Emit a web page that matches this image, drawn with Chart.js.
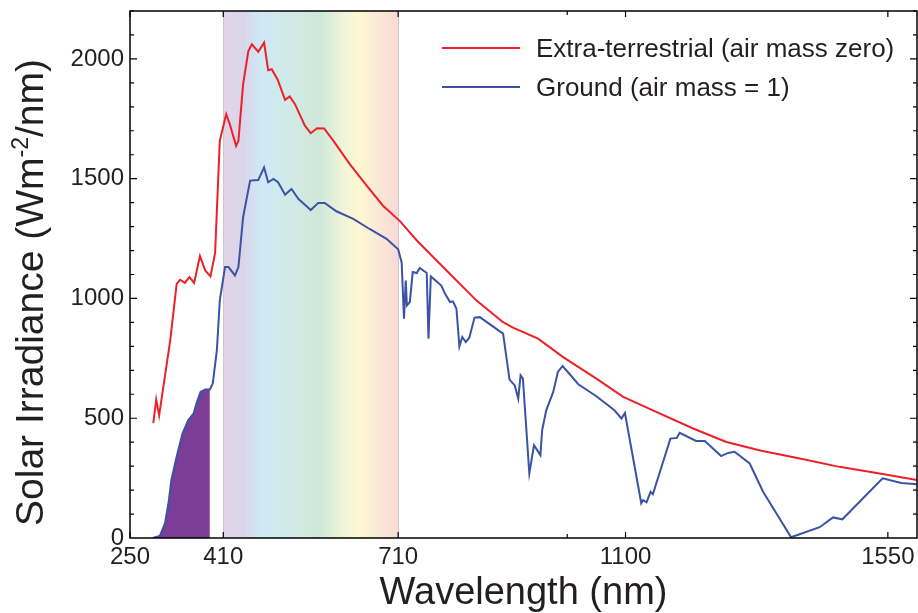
<!DOCTYPE html>
<html>
<head>
<meta charset="utf-8">
<script src="https://cdn.jsdelivr.net/npm/chart.js@4.4.1/dist/chart.umd.min.js"></script>
<style>
  html, body { margin: 0; padding: 0; background: #fff; }
  #chart { display: block; }
</style>
</head>
<body>
<canvas id="chart" width="918" height="613"></canvas>
<script>
// ─── DATA ──────────────────────────────────────────────────
const xTicks = [250, 410, 710, 1100, 1550];
const xMinorTicks = [1000];
const yTicks = [0, 500, 1000, 1500, 2000];

const extraWavelength = [
    290, 295, 300, 319, 330, 336, 344, 352, 360, 370, 379, 388, 396, 404, 415, 421,
    432, 436, 444, 453, 459, 470, 480, 487, 493, 503, 516, 524, 533, 550, 560, 571,
    583, 599, 627, 656, 684, 713, 742, 793, 844, 890, 907, 950, 993, 1050, 1096, 1147,
    1216, 1273, 1333, 1399, 1467, 1541, 1600,
];
const extraIrradiance = [
    480, 578, 512, 825, 1060, 1078, 1065, 1089, 1065, 1177, 1117, 1092, 1190, 1658, 1769, 1729,
    1637, 1658, 1894, 2033, 2061, 2030, 2068, 1953, 1957, 1915, 1829, 1843, 1811, 1721, 1690, 1711,
    1710, 1658, 1561, 1471, 1387, 1323, 1242, 1117, 992, 901, 878, 832, 755, 665, 589, 533,
    457, 401, 364, 332, 297, 267, 242,
];

const groundWavelength = [
    289, 301, 310, 316, 321, 330, 340, 350, 359, 364, 371, 379, 387, 392, 399, 404,
    413, 419, 430, 436, 444, 456, 470, 480, 487, 496, 504, 516, 527, 539, 552, 560,
    573, 584, 604, 633, 661, 690, 710, 716, 720, 723, 725, 730, 735, 742, 747, 759,
    762, 766, 784, 790, 799, 804, 810, 815, 820, 826, 832, 841, 850, 890, 901, 910,
    916, 920, 924, 935, 943, 954, 957, 964, 976, 984, 992, 1001, 1019, 1050, 1081, 1093,
    1099, 1127, 1130, 1136, 1143, 1147, 1177, 1188, 1193, 1221, 1236, 1264, 1276, 1287, 1313, 1336,
    1384, 1433, 1456, 1472, 1541, 1573, 1600,
];
const groundIrradiance = [
    0, 8, 61, 145, 242, 339, 436, 492, 519, 561, 610, 620, 620, 645, 783, 992,
    1131, 1131, 1096, 1131, 1339, 1492, 1494, 1547, 1485, 1499, 1485, 1433, 1457, 1415, 1387, 1369,
    1399, 1399, 1364, 1332, 1290, 1249, 1205, 1150, 915, 1075, 971, 985, 1110, 1106, 1127, 1106,
    832, 1092, 1054, 1022, 985, 988, 957, 800, 839, 818, 836, 920, 922, 853, 661, 637,
    582, 679, 665, 270, 387, 346, 450, 533, 610, 693, 718, 693, 642, 592, 533, 499,
    522, 145, 158, 149, 193, 183, 415, 418, 439, 405, 405, 342, 355, 360, 311, 193,
    3, 45, 86, 78, 249, 230, 224,
];

const uvCutoff = 387;          // shaded UV part of the ground spectrum ends here
const visibleBand = [410, 710];

// ─── STYLE ─────────────────────────────────────────────────
const FONT = "'Liberation Sans', Arial, Helvetica, sans-serif";
const INK = "#231f20";
const RED = "#ec2127";
const BLUE = "#3a53a4";
const PURPLE = "#7b3d96";

const spectrumStops = [
    [0.00, "#e2d4e8"],
    [0.12, "#d9d6ea"],
    [0.22, "#cfe9f5"],
    [0.40, "#d1eae6"],
    [0.55, "#cde8d9"],
    [0.70, "#f2f6d8"],
    [0.78, "#fdf8d1"],
    [0.90, "#fbe6d8"],
    [1.00, "#f9dad4"],
];

const toPoints = (xs, ys) => xs.map((x, i) => ({ x, y: ys[i] }));
const groundPoints = toPoints(groundWavelength, groundIrradiance);
const uvPoints = groundPoints.filter(p => p.x <= uvCutoff);

// ─── PLUGINS ───────────────────────────────────────────────
const spectrumBand = {
    id: "spectrumBand",
    beforeDatasetsDraw(chart) {
        const { ctx, chartArea, scales: { x } } = chart;
        const x1 = x.getPixelForValue(visibleBand[0]);
        const x2 = x.getPixelForValue(visibleBand[1]);
        const grad = ctx.createLinearGradient(x1, 0, x2, 0);
        spectrumStops.forEach(([pos, color]) => grad.addColorStop(pos, color));
        ctx.save();
        ctx.fillStyle = grad;
        ctx.fillRect(x1, chartArea.top, x2 - x1, chartArea.bottom - chartArea.top);
        ctx.strokeStyle = "#c8c8c8";
        ctx.lineWidth = 1;
        ctx.beginPath();
        [x1, x2].forEach(px => {
            ctx.moveTo(Math.round(px) + 0.5, chartArea.top);
            ctx.lineTo(Math.round(px) + 0.5, chartArea.bottom);
        });
        ctx.stroke();
        ctx.restore();
    },
};

const frameTicks = {
    id: "frameTicks",
    afterDatasetsDraw(chart) {
        const { ctx, chartArea: a, scales: { x, y } } = chart;
        ctx.save();
        ctx.strokeStyle = "#000";
        ctx.lineWidth = 1.5;
        ctx.strokeRect(a.left, a.top, a.right - a.left, a.bottom - a.top);
        ctx.lineWidth = 1.2;
        ctx.beginPath();
        const xt = (v, len) => {
            const px = x.getPixelForValue(v);
            ctx.moveTo(px, a.bottom); ctx.lineTo(px, a.bottom - len);
            ctx.moveTo(px, a.top); ctx.lineTo(px, a.top + len);
        };
        xTicks.forEach(v => xt(v, 6));
        xMinorTicks.forEach(v => xt(v, 4));
        for (let v = 100; v <= y.max; v += 100) {
            const py = y.getPixelForValue(v);
            const len = v % 500 === 0 ? 7 : 4;
            ctx.moveTo(a.left, py); ctx.lineTo(a.left + len, py);
            ctx.moveTo(a.right, py); ctx.lineTo(a.right - len, py);
        }
        ctx.stroke();
        ctx.restore();
    },
};

const yTitle = {
    id: "yTitle",
    afterDraw(chart) {
        const { ctx, chartArea: a } = chart;
        const parts = [
            { text: "Solar Irradiance (Wm", size: 39, rise: 0 },
            { text: "-2", size: 23, rise: 15 },
            { text: "/nm)", size: 39, rise: 0 },
        ];
        ctx.save();
        let total = 0;
        parts.forEach(p => {
            ctx.font = `${p.size}px ${FONT}`;
            p.w = ctx.measureText(p.text).width;
            total += p.w;
        });
        ctx.translate(43, (a.top + a.bottom) / 2 + 18);
        ctx.rotate(-Math.PI / 2);
        ctx.fillStyle = INK;
        ctx.textBaseline = "alphabetic";
        let cx = -total / 2;
        parts.forEach(p => {
            ctx.font = `${p.size}px ${FONT}`;
            ctx.fillText(p.text, cx, -p.rise);
            cx += p.w;
        });
        ctx.restore();
    },
};

const lineLegend = {
    id: "lineLegend",
    afterDraw(chart) {
        const { ctx, chartArea: a } = chart;
        const items = chart.data.datasets.filter(d => d.label);
        ctx.save();
        ctx.font = `26px ${FONT}`;
        ctx.fillStyle = INK;
        ctx.textBaseline = "alphabetic";
        items.forEach((d, i) => {
            const rowY = a.top + 37 + i * 39;
            ctx.strokeStyle = d.borderColor;
            ctx.lineWidth = 2;
            ctx.beginPath();
            ctx.moveTo(a.right - 475, rowY);
            ctx.lineTo(a.right - 397, rowY);
            ctx.stroke();
            ctx.fillText(d.label, a.right - 381, rowY + 9);
        });
        ctx.restore();
    },
};

// ─── CHART ─────────────────────────────────────────────────
new Chart(document.getElementById("chart"), {
    type: "line",
    data: {
        datasets: [
            {
                label: "Extra-terrestrial (air mass zero)",
                data: toPoints(extraWavelength, extraIrradiance),
                borderColor: RED,
                borderWidth: 2,
                pointRadius: 0,
                fill: false,
                tension: 0,
            },
            {
                label: "Ground (air mass = 1)",
                data: groundPoints,
                borderColor: BLUE,
                borderWidth: 2,
                pointRadius: 0,
                fill: false,
                tension: 0,
            },
            {
                label: "",
                data: uvPoints,
                borderWidth: 0,
                borderColor: "rgba(0,0,0,0)",
                backgroundColor: PURPLE,
                pointRadius: 0,
                fill: "origin",
                tension: 0,
            },
        ],
    },
    options: {
        responsive: false,
        animation: false,
        devicePixelRatio: 1,
        layout: { autoPadding: false, padding: { top: 11, right: 1, left: 0, bottom: 0 } },
        plugins: {
            legend: { display: false },
            tooltip: { enabled: false },
        },
        scales: {
            x: {
                type: "linear",
                min: 250,
                max: 1600,
                afterFit: s => {
                    s.height = 75;
                    s.paddingLeft = 0;
                    s.paddingRight = 0;
                },
                afterBuildTicks: s => { s.ticks = xTicks.map(value => ({ value })); },
                grid: { display: false, drawTicks: false },
                border: { display: false },
                ticks: {
                    padding: 5,
                    color: INK,
                    font: { family: FONT, size: 24 },
                    maxRotation: 0,
                    autoSkip: false,
                    callback: v => String(v),
                },
                title: {
                    display: true,
                    text: "Wavelength (nm)",
                    color: INK,
                    font: { family: FONT, size: 38 },
                    padding: { top: 0, bottom: -3 },
                },
            },
            y: {
                min: 0,
                max: 2200,
                afterFit: s => {
                    s.width = 130;
                    s.paddingTop = 0;
                    s.paddingBottom = 0;
                },
                afterBuildTicks: s => { s.ticks = yTicks.map(value => ({ value })); },
                grid: { display: false, drawTicks: false },
                border: { display: false },
                ticks: {
                    padding: 6,
                    color: INK,
                    font: { family: FONT, size: 24 },
                    callback: v => String(v),
                },
            },
        },
    },
    plugins: [spectrumBand, frameTicks, yTitle, lineLegend],
});
</script>
</body>
</html>
